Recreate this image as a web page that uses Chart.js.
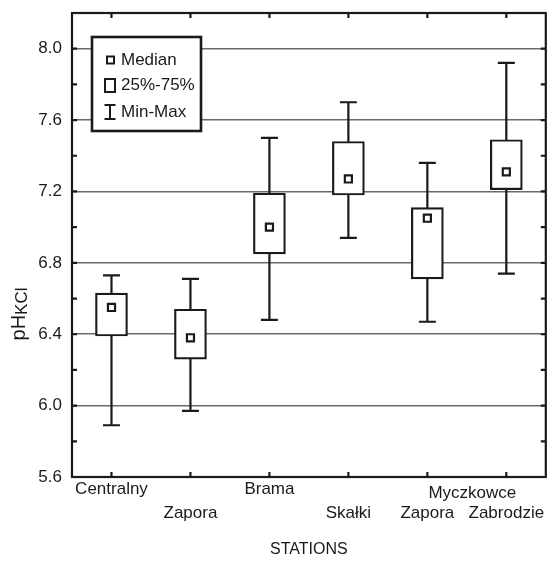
<!DOCTYPE html>
<html>
<head>
<meta charset="utf-8">
<script src="https://cdn.jsdelivr.net/npm/chart.js@4.4.1/dist/chart.umd.min.js"></script>
<style>
    html, body { margin: 0; padding: 0; background: #fff; }
</style>
</head>
<body>
<canvas id="boxChart" width="553" height="561"></canvas>
<script>
// station labels, two rows so they stagger like the original
const stations = [['Centralny', ''], ['', 'Zapora'], ['Brama', ''], ['', 'Skałki'], ['', 'Zapora'], ['', 'Zabrodzie']];
const sharedLabel = 'Myczkowce'; // written once over the last two stations

const minValues = [5.89, 5.97, 6.48, 6.94, 6.47, 6.74];
const q1Values = [6.39, 6.26, 6.85, 7.18, 6.71, 7.21];
const medianValues = [6.55, 6.38, 7.00, 7.27, 7.05, 7.31];
const q3Values = [6.63, 6.54, 7.19, 7.48, 7.11, 7.49];
const maxValues = [6.73, 6.71, 7.50, 7.70, 7.36, 7.92];

const legendLabels = ['Median', '25%-75%', 'Min-Max'];

const ink = '#1a1a1a';
const gridGray = '#6a6a6a';
const fontFamily = 'Arial, "Liberation Sans", sans-serif';

const boxRanges = q1Values.map((q1, i) => [q1, q3Values[i]]);

function isMajor(v) {
    const k = Math.round((v - 5.6) / 0.2);
    return k % 2 === 0;
}

// whiskers go under the boxes
const whiskerPlugin = {
    id: 'whiskers',
    beforeDatasetsDraw(chart) {
        const ctx = chart.ctx;
        const xs = chart.scales.x;
        const ys = chart.scales.y;
        ctx.save();
        ctx.strokeStyle = ink;
        ctx.lineWidth = 2.2;
        minValues.forEach((mn, i) => {
            const px = xs.getPixelForValue(i);
            const yMin = ys.getPixelForValue(mn);
            const yMax = ys.getPixelForValue(maxValues[i]);
            ctx.beginPath();
            ctx.moveTo(px, yMin); ctx.lineTo(px, yMax);
            ctx.moveTo(px - 8.5, yMin); ctx.lineTo(px + 8.5, yMin);
            ctx.moveTo(px - 8.5, yMax); ctx.lineTo(px + 8.5, yMax);
            ctx.stroke();
        });
        ctx.restore();
    }
};

// frame, inward ticks, legend box and the axis texts the library can't do
const framePlugin = {
    id: 'frame',
    afterDraw(chart) {
        const ctx = chart.ctx;
        const area = chart.chartArea;
        const xs = chart.scales.x;
        const ys = chart.scales.y;
        ctx.save();
        ctx.strokeStyle = ink;
        ctx.lineWidth = 2.2;
        ctx.strokeRect(area.left, area.top, area.right - area.left, area.bottom - area.top);

        ctx.beginPath();
        ys.ticks.forEach(t => {
            const py = ys.getPixelForValue(t.value);
            if (py <= area.top + 1 || py >= area.bottom - 1) return;
            ctx.moveTo(area.left, py); ctx.lineTo(area.left + 5, py);
            ctx.moveTo(area.right, py); ctx.lineTo(area.right - 5, py);
        });
        stations.forEach((s, i) => {
            const px = xs.getPixelForValue(i);
            ctx.moveTo(px, area.top); ctx.lineTo(px, area.top + 5);
            ctx.moveTo(px, area.bottom); ctx.lineTo(px, area.bottom - 5);
        });
        ctx.stroke();

        // legend
        const lx = area.left + 20;
        const ly = area.top + 24;
        ctx.fillStyle = '#fff';
        ctx.fillRect(lx, ly, 109, 94);
        ctx.lineWidth = 2.6;
        ctx.strokeRect(lx, ly, 109, 94);
        ctx.lineWidth = 2;
        ctx.strokeRect(lx + 15, ly + 19.5, 7, 7);
        ctx.strokeRect(lx + 13, ly + 42, 10, 13);
        ctx.beginPath();
        ctx.moveTo(lx + 18, ly + 68); ctx.lineTo(lx + 18, ly + 82);
        ctx.moveTo(lx + 12.5, ly + 68); ctx.lineTo(lx + 23.5, ly + 68);
        ctx.moveTo(lx + 12.5, ly + 82); ctx.lineTo(lx + 23.5, ly + 82);
        ctx.stroke();
        ctx.fillStyle = ink;
        ctx.font = '17px ' + fontFamily;
        ctx.textAlign = 'left';
        ctx.textBaseline = 'middle';
        [23, 48, 75].forEach((dy, i) => ctx.fillText(legendLabels[i], lx + 29, ly + dy));

        // shared "Myczkowce" label
        const p4 = xs.getPixelForValue(4);
        const p5 = xs.getPixelForValue(5);
        ctx.textAlign = 'center';
        ctx.fillText(sharedLabel, p4 + 0.57 * (p5 - p4), area.bottom + 16);

        // y title pH with KCl subscript
        ctx.translate(18, 314);
        ctx.rotate(-Math.PI / 2);
        ctx.textAlign = 'left';
        ctx.textBaseline = 'alphabetic';
        ctx.font = '20px ' + fontFamily;
        const w1 = ctx.measureText('pH').width;
        ctx.font = '17px ' + fontFamily;
        const w2 = ctx.measureText('KCl').width;
        const start = -(w1 + w2) / 2;
        ctx.font = '20px ' + fontFamily;
        ctx.fillText('pH', start, 7);
        ctx.font = '17px ' + fontFamily;
        ctx.fillText('KCl', start + w1, 9);
        ctx.restore();
    }
};

new Chart(document.getElementById('boxChart').getContext('2d'), {
    type: 'bar',
    data: {
        labels: stations,
        datasets: [
            {
                label: '25%-75%',
                data: boxRanges,
                backgroundColor: '#ffffff',
                borderColor: ink,
                borderWidth: 2.2,
                borderSkipped: false,
                barThickness: 32,
                grouped: false,
                order: 2
            },
            {
                type: 'line',
                label: 'Median',
                data: medianValues,
                showLine: false,
                pointStyle: 'rect',
                pointRadius: 5,
                pointBackgroundColor: '#ffffff',
                pointBorderColor: ink,
                pointBorderWidth: 2.2,
                order: 1
            }
        ]
    },
    options: {
        responsive: false,
        animation: false,
        layout: {
            padding: { top: 13, right: 1, left: 0, bottom: 0 }
        },
        plugins: {
            legend: { display: false },
            tooltip: { enabled: false }
        },
        scales: {
            x: {
                grid: { display: false, drawTicks: false },
                border: { color: ink, width: 2 },
                ticks: {
                    color: ink,
                    padding: 0,
                    maxRotation: 0,
                    autoSkip: false,
                    font: { family: fontFamily, size: 17, lineHeight: 24 / 17 }
                },
                title: {
                    display: true,
                    text: 'STATIONS',
                    color: ink,
                    font: { family: fontFamily, size: 16, lineHeight: 1.2 },
                    padding: { top: 0, bottom: 2 }
                },
                afterFit: (scale) => {
                    scale.height = 84;
                    scale.paddingLeft = 0;
                    scale.paddingRight = 0;
                }
            },
            y: {
                min: 5.6,
                max: 8.2,
                grid: {
                    drawTicks: false,
                    lineWidth: 1.5,
                    color: (c) => {
                        const v = c.tick.value;
                        if (v < 5.7 || v > 8.1) return 'rgba(0,0,0,0)';
                        return isMajor(v) ? gridGray : 'rgba(0,0,0,0)';
                    }
                },
                border: { color: ink, width: 2 },
                ticks: {
                    stepSize: 0.2,
                    padding: 10,
                    color: ink,
                    font: { family: fontFamily, size: 17 },
                    callback: (v) => isMajor(v) ? Number(v).toFixed(1) : ''
                },
                afterFit: (scale) => {
                    scale.width = 72;
                    scale.paddingTop = 0;
                    scale.paddingBottom = 0;
                }
            }
        }
    },
    plugins: [whiskerPlugin, framePlugin]
});
</script>
</body>
</html>
